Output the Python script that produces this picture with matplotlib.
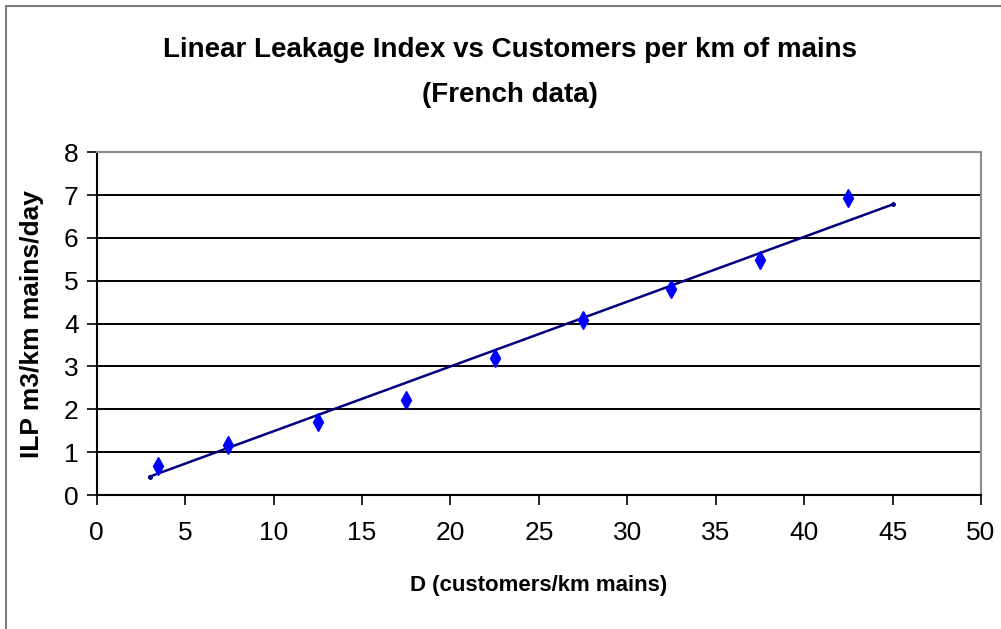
import numpy as np
import matplotlib
matplotlib.use("Agg")
import matplotlib.pyplot as plt
from matplotlib.patches import Rectangle

plt.rcParams['font.family'] = ['Liberation Sans', 'DejaVu Sans']

# customers per km of mains vs linear leakage index
customers_per_km = [3.45, 7.45, 12.5, 17.5, 22.5, 27.5, 32.5, 37.5, 42.5]
ilp = [0.68, 1.17, 1.71, 2.21, 3.19, 4.08, 4.80, 5.49, 6.92]
# trend line ends as drawn in the chart
trend_x = [3, 45]
trend_y = [0.43, 6.78]

x_ticks = list(range(0, 51, 5))
y_ticks = list(range(0, 9))

fig = plt.figure(figsize=(10.01, 6.29), dpi=100)
ax = fig.add_axes([0.0966, 0.213, 0.8834, 0.545])

# outer chart frame
fig.patches.append(Rectangle((6 / 1001, -0.1), 1.2, (629 - 6) / 629 + 0.1,
                             transform=fig.transFigure, fill=False,
                             edgecolor='#7f7f7f', linewidth=1.5))

for yv in y_ticks[1:-1]:
    ax.axhline(yv, color='black', linewidth=1.4, zorder=1)

ax.plot(trend_x, trend_y, color='#000080', linewidth=1.8,
        marker='o', markersize=2.5, zorder=2)

ax.plot(customers_per_km, ilp, linestyle='none', marker='d', markersize=9,
        color='#0000ff', markeredgecolor='#0000ff', zorder=3)

ax.set_xlim(0, 50)
ax.set_ylim(0, 8)
ax.set_xticks(x_ticks)
ax.set_yticks(y_ticks)
ax.tick_params(axis='both', direction='out', length=7, width=1.2,
               labelsize=19, colors='black')
ax.tick_params(axis='x', pad=12)
ax.tick_params(axis='y', pad=6)

ax.spines['left'].set_color('black')
ax.spines['bottom'].set_color('black')
ax.spines['top'].set_color('#8c8c8c')
ax.spines['right'].set_color('#8c8c8c')
for s in ax.spines.values():
    s.set_linewidth(1.5)

ax.set_xlabel('D (customers/km mains)', fontsize=16, fontweight='bold', labelpad=21)
ax.set_ylabel('ILP m3/km mains/day', fontsize=19, fontweight='bold', labelpad=14)

fig.text(0.509, 0.884, 'Linear Leakage Index vs Customers per km of mains\n(French data)',
         ha='center', va='center', fontsize=20, fontweight='bold', linespacing=1.95)

fig.savefig('out.png', dpi=100)
